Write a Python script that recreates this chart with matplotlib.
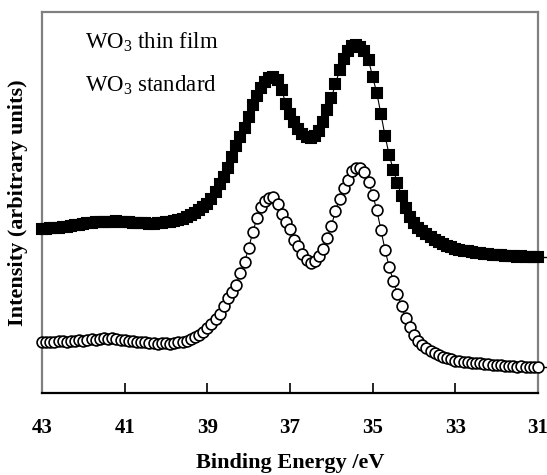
import numpy as np
import matplotlib
matplotlib.use("Agg")
import matplotlib.pyplot as plt

plt.rcParams['font.family'] = ['Liberation Serif', 'DejaVu Serif']
plt.rcParams['mathtext.fontset'] = 'custom'
plt.rcParams['mathtext.rm'] = 'Liberation Serif'
plt.rcParams['mathtext.it'] = 'Liberation Serif:italic'
plt.rcParams['mathtext.bf'] = 'Liberation Serif:bold'

# Binding energy grid (eV), 0.1 eV steps from 43 down to 31
energy = np.round(np.arange(43.0, 30.95, -0.1), 2)

# W 4f intensity, WO3 thin film (arbitrary units, offset upward)
thin_film = [
    164, 164, 165, 165, 165, 166, 166, 167, 168, 168,
    169, 170, 170, 171, 171, 171, 171, 171, 172, 171,
    171, 171, 170, 170, 170, 170, 169, 169, 170, 170,
    171, 171, 172, 173, 174, 176, 178, 180, 183, 186,
    189, 194, 201, 209, 216, 225, 236, 247, 256, 265,
    276, 288, 297, 305, 311, 315, 316, 313, 303, 289,
    279, 271, 264, 259, 256, 255, 257, 262, 271, 283,
    295, 309, 323, 334, 342, 347, 348, 346, 342, 333,
    316, 300, 279, 257, 238, 223, 210, 197, 185, 176,
    170, 165, 162, 159, 156, 153, 151, 149, 147, 146,
    144, 143, 142, 142, 141, 140, 140, 139, 139, 138,
    138, 138, 137, 137, 137, 136, 137, 136, 136, 136,
    136,
]

# W 4f intensity, WO3 standard (arbitrary units)
standard = [
    51, 51, 51, 51, 52, 52, 51, 52, 52, 53,
    52, 53, 54, 53, 54, 55, 54, 55, 54, 53,
    53, 52, 52, 51, 51, 51, 50, 50, 49, 50,
    50, 49, 50, 51, 51, 52, 54, 56, 58, 61,
    65, 69, 74, 79, 87, 95, 101, 108, 120, 131,
    145, 161, 175, 186, 192, 195, 196, 189, 179, 171,
    164, 153, 147, 139, 133, 130, 132, 137, 144, 155,
    167, 182, 194, 205, 213, 222, 225, 225, 221, 211,
    198, 183, 163, 143, 126, 112, 99, 87, 75, 66,
    58, 52, 48, 45, 42, 40, 38, 36, 35, 34,
    32, 32, 31, 31, 30, 30, 30, 29, 29, 28,
    28, 28, 27, 27, 27, 26, 27, 26, 26, 26,
    26,
]

x_ticks = [43, 41, 39, 37, 35, 33, 31]
y_ticks = [26, 136]
labels = ["WO$_3$ thin film", "WO$_3$ standard"]

fig = plt.figure(figsize=(5.47, 4.75), dpi=100)
ax = fig.add_axes([42 / 547, 82 / 475, 496 / 547, 381 / 475])

ax.plot(energy, thin_film, color='black', lw=0.8, marker='s', ms=7.8,
        mfc='black', mec='black', mew=1.5, clip_on=False, zorder=3)
ax.plot(energy, standard, color='black', lw=0.8, marker='o', ms=7.8,
        mfc='white', mec='black', mew=1.2, clip_on=False, zorder=3)

ax.set_xlim(43, 31)
ax.set_ylim(0, 381)
ax.set_xticks(x_ticks)
ax.set_xticklabels([str(t) for t in x_ticks], fontweight='bold', fontsize=15)
ax.tick_params(axis='x', direction='in', length=7, width=1.2, pad=18,
               colors='black')

ax.yaxis.tick_right()
ax.set_yticks(y_ticks)
ax.set_yticklabels([])
ax.tick_params(axis='y', direction='out', length=7, width=1.0)

for side in ('left', 'top', 'right'):
    ax.spines[side].set_color('#808080')
    ax.spines[side].set_linewidth(1.6)
ax.spines['bottom'].set_color('black')
ax.spines['bottom'].set_linewidth(1.6)

ax.set_xlabel("Binding Energy /eV", fontweight='bold', fontsize=16, labelpad=11)
ax.yaxis.set_label_position('left')
ax.set_ylabel("Intensity (arbitrary units)", fontweight='bold', fontsize=16,
              labelpad=10)

for i, lab in enumerate(labels):
    fig.text(85 / 547, 1 - (42 + 43 * i) / 475, lab, fontsize=16.5, va='center')

fig.savefig("out.png", dpi=100)
